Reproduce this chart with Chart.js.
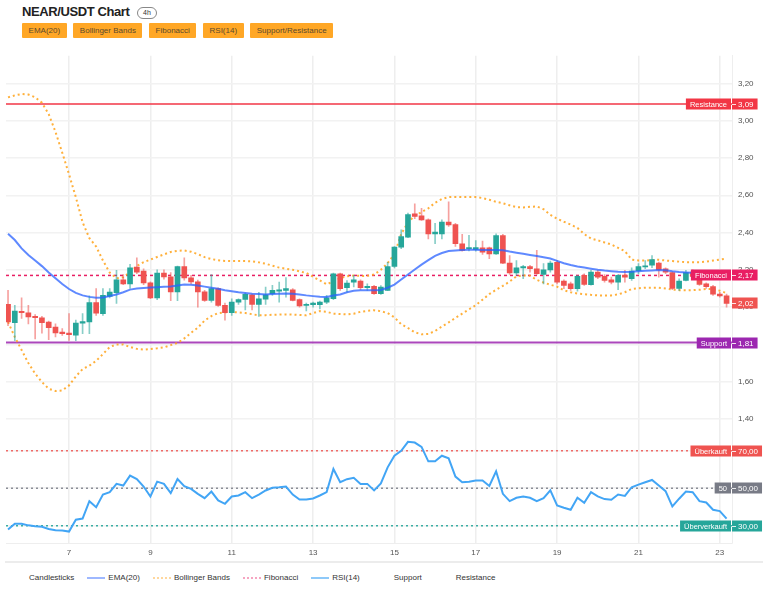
<!DOCTYPE html>
<html>
<head>
<meta charset="utf-8">
<script src="https://cdn.jsdelivr.net/npm/chart.js@4.4.1/dist/chart.umd.min.js"></script>
<style>
  body { margin: 0; width: 768px; height: 594px; background: #fff; overflow: hidden; position: relative;
         font-family: "Liberation Sans", Arial, sans-serif; color: #222; }
  .title { position: absolute; left: 22px; top: 4px; line-height: 16px; font-size: 13px; font-weight: bold; letter-spacing: -0.4px; }
  .pill { position: absolute; left: 137px; top: 7px; width: 18px; height: 10px; border: 1.5px solid #888; border-radius: 7px;
          font-size: 7px; line-height: 10px; text-align: center; color: #333; }
  .buttons { position: absolute; left: 22px; top: 23px; display: flex; gap: 6.5px; }
  .buttons span { background: #FFA726; color: #5b4a2e; font-size: 8px; line-height: 15px; height: 15px; padding: 0 6.6px; border-radius: 1px; }
  .chart-box { position: absolute; left: 0; top: 45px; width: 768px; height: 517px; }
  .sep { position: absolute; left: 5px; top: 561px; width: 758px; height: 2px; background: #ececec; }
  .legend { position: absolute; left: 8px; top: 572px; display: flex; gap: 13px; font-size: 8px; line-height: 12px; color: #333; }
  .legend .item { display: flex; align-items: center; gap: 3px; }
  .legend .icon { width: 18px; height: 0; border-top: 2px solid transparent; }
</style>
</head>
<body>
<div class="title">NEAR/USDT Chart</div>
<div class="pill">4h</div>
<div class="buttons">
  <span>EMA(20)</span><span>Bollinger Bands</span><span>Fibonacci</span><span>RSI(14)</span><span>Support/Resistance</span>
</div>
<div class="chart-box"><canvas id="chart"></canvas></div>
<div class="sep"></div>
<div class="legend">
  <div class="item"><span class="icon"></span>Candlesticks</div>
  <div class="item"><span class="icon" style="border-top-color: rgba(41,98,255,0.45)"></span>EMA(20)</div>
  <div class="item"><span class="icon" style="border-top: 2px dotted rgba(255,167,38,0.45)"></span>Bollinger Bands</div>
  <div class="item"><span class="icon" style="border-top: 2px dotted rgba(233,30,99,0.4)"></span>Fibonacci</div>
  <div class="item"><span class="icon" style="border-top-color: rgba(66,165,245,0.6)"></span>RSI(14)</div>
  <div class="item"><span class="icon"></span>Support</div>
  <div class="item"><span class="icon"></span>Resistance</div>
</div>
<script>
// 4h candles, first one on the 5th at 12:00
const opens = [2.015, 1.916, 1.978, 1.970, 1.950, 1.942, 1.920, 1.893, 1.866, 1.861,
  1.850, 1.914, 1.920, 2.024, 1.965, 2.058, 2.077, 2.147, 2.125, 2.215,
  2.193, 2.130, 2.050, 2.183, 2.162, 2.082, 2.218, 2.157, 2.135, 2.082,
  2.036, 2.099, 2.010, 1.970, 2.027, 2.041, 2.066, 2.015, 2.042, 2.072,
  2.086, 2.090, 2.093, 2.040, 2.009, 2.013, 2.013, 2.027, 2.045, 2.179,
  2.104, 2.134, 2.140, 2.104, 2.111, 2.072, 2.090, 2.218, 2.322, 2.375,
  2.500, 2.490, 2.468, 2.393, 2.393, 2.456, 2.443, 2.340, 2.313, 2.310,
  2.318, 2.318, 2.286, 2.384, 2.236, 2.183, 2.210, 2.218, 2.206, 2.176,
  2.200, 2.240, 2.140, 2.125, 2.099, 2.170, 2.120, 2.188, 2.165, 2.147,
  2.134, 2.172, 2.153, 2.195, 2.215, 2.225, 2.236, 2.206, 2.185, 2.100,
  2.143, 2.188, 2.152, 2.125, 2.110, 2.070, 2.060];
const highs = [2.090, 2.010, 2.050, 2.010, 1.960, 1.950, 1.925, 1.910, 1.885, 1.965,
  1.930, 1.965, 2.060, 2.100, 2.100, 2.100, 2.197, 2.175, 2.230, 2.265,
  2.205, 2.135, 2.200, 2.200, 2.185, 2.220, 2.265, 2.170, 2.145, 2.090,
  2.175, 2.104, 2.022, 2.045, 2.045, 2.075, 2.070, 2.080, 2.108, 2.117,
  2.134, 2.158, 2.099, 2.045, 2.022, 2.027, 2.033, 2.063, 2.183, 2.183,
  2.143, 2.170, 2.147, 2.125, 2.117, 2.115, 2.240, 2.325, 2.415, 2.504,
  2.554, 2.530, 2.474, 2.450, 2.468, 2.565, 2.450, 2.390, 2.385, 2.357,
  2.354, 2.322, 2.393, 2.390, 2.277, 2.250, 2.224, 2.224, 2.304, 2.233,
  2.247, 2.250, 2.147, 2.134, 2.170, 2.179, 2.197, 2.197, 2.175, 2.161,
  2.175, 2.197, 2.211, 2.233, 2.250, 2.277, 2.241, 2.211, 2.190, 2.152,
  2.197, 2.200, 2.165, 2.130, 2.117, 2.080, 2.070];
const lows = [1.900, 1.820, 1.940, 1.910, 1.830, 1.860, 1.825, 1.840, 1.848, 1.822,
  1.820, 1.857, 1.857, 1.955, 1.955, 2.050, 2.020, 2.120, 2.100, 2.180,
  2.120, 2.045, 2.040, 2.150, 2.035, 2.035, 2.145, 2.125, 2.000, 2.030,
  2.027, 2.004, 1.930, 1.955, 2.015, 1.985, 1.985, 1.950, 2.015, 2.063,
  2.027, 2.054, 2.033, 2.000, 1.979, 2.000, 1.990, 2.018, 2.040, 2.090,
  2.080, 2.108, 2.093, 2.090, 2.068, 2.068, 2.088, 2.210, 2.313, 2.372,
  2.474, 2.465, 2.366, 2.340, 2.366, 2.433, 2.325, 2.300, 2.302, 2.300,
  2.283, 2.260, 2.283, 2.233, 2.175, 2.170, 2.152, 2.188, 2.175, 2.125,
  2.188, 2.125, 2.099, 2.090, 2.086, 2.117, 2.118, 2.152, 2.134, 2.125,
  2.093, 2.134, 2.143, 2.179, 2.206, 2.211, 2.161, 2.179, 2.093, 2.090,
  2.140, 2.150, 2.117, 2.100, 2.063, 2.054, 2.000];
const closes = [1.920, 1.979, 1.970, 1.947, 1.944, 1.916, 1.890, 1.862, 1.858, 1.852,
  1.915, 1.922, 2.024, 1.968, 2.063, 2.081, 2.147, 2.125, 2.211, 2.188,
  2.130, 2.050, 2.183, 2.162, 2.082, 2.218, 2.156, 2.135, 2.081, 2.036,
  2.099, 2.009, 1.970, 2.027, 2.041, 2.068, 2.015, 2.045, 2.066, 2.090,
  2.093, 2.099, 2.036, 2.006, 2.015, 2.022, 2.027, 2.050, 2.179, 2.099,
  2.129, 2.147, 2.104, 2.111, 2.072, 2.108, 2.218, 2.322, 2.379, 2.497,
  2.486, 2.468, 2.393, 2.402, 2.456, 2.441, 2.340, 2.304, 2.320, 2.320,
  2.295, 2.286, 2.384, 2.236, 2.183, 2.211, 2.218, 2.206, 2.179, 2.200,
  2.236, 2.134, 2.117, 2.099, 2.165, 2.122, 2.188, 2.161, 2.143, 2.134,
  2.170, 2.160, 2.193, 2.218, 2.222, 2.255, 2.200, 2.188, 2.100, 2.140,
  2.185, 2.165, 2.122, 2.110, 2.070, 2.060, 2.020];
const ema20 = [2.393, 2.360, 2.315, 2.280, 2.250, 2.220, 2.186, 2.155, 2.124, 2.097,
  2.076, 2.063, 2.055, 2.050, 2.052, 2.060, 2.068, 2.080, 2.094, 2.100,
  2.103, 2.105, 2.107, 2.109, 2.111, 2.116, 2.121, 2.120, 2.116, 2.110,
  2.104, 2.098, 2.090, 2.085, 2.080, 2.076, 2.072, 2.070, 2.068, 2.070,
  2.072, 2.073, 2.072, 2.068, 2.063, 2.059, 2.055, 2.054, 2.062, 2.068,
  2.080, 2.088, 2.090, 2.090, 2.090, 2.092, 2.104, 2.121, 2.148, 2.175,
  2.202, 2.228, 2.252, 2.275, 2.290, 2.301, 2.304, 2.306, 2.308, 2.308,
  2.307, 2.306, 2.307, 2.305, 2.298, 2.292, 2.286, 2.280, 2.274, 2.268,
  2.261, 2.248, 2.235, 2.226, 2.218, 2.212, 2.206, 2.200, 2.196, 2.193,
  2.190, 2.188, 2.190, 2.193, 2.195, 2.197, 2.199, 2.198, 2.192, 2.188,
  2.186, 2.184, 2.179, 2.174, 2.169, 2.164, 2.160];
const bbUpper = [3.125, 3.136, 3.143, 3.140, 3.126, 3.096, 3.035, 2.940, 2.828, 2.712,
  2.590, 2.455, 2.370, 2.325, 2.250, 2.185, 2.155, 2.160, 2.188, 2.220,
  2.241, 2.255, 2.269, 2.283, 2.296, 2.302, 2.304, 2.297, 2.284, 2.268,
  2.258, 2.251, 2.248, 2.247, 2.247, 2.247, 2.246, 2.240, 2.233, 2.222,
  2.212, 2.206, 2.200, 2.192, 2.183, 2.163, 2.143, 2.122, 2.138, 2.156,
  2.165, 2.170, 2.167, 2.168, 2.175, 2.200, 2.236, 2.284, 2.392, 2.455,
  2.490, 2.510, 2.530, 2.560, 2.580, 2.590, 2.591, 2.590, 2.590, 2.590,
  2.585, 2.576, 2.565, 2.557, 2.546, 2.536, 2.535, 2.538, 2.540, 2.525,
  2.495, 2.474, 2.458, 2.443, 2.425, 2.392, 2.368, 2.358, 2.347, 2.336,
  2.318, 2.300, 2.255, 2.250, 2.250, 2.252, 2.254, 2.250, 2.247, 2.244,
  2.241, 2.241, 2.241, 2.244, 2.250, 2.255, 2.260];
const bbLower = [1.920, 1.840, 1.770, 1.700, 1.643, 1.598, 1.562, 1.550, 1.553, 1.580,
  1.628, 1.668, 1.686, 1.712, 1.748, 1.786, 1.800, 1.800, 1.786, 1.776,
  1.772, 1.775, 1.779, 1.784, 1.796, 1.808, 1.832, 1.862, 1.890, 1.928,
  1.952, 1.968, 1.972, 1.974, 1.972, 1.968, 1.962, 1.956, 1.957, 1.959,
  1.960, 1.961, 1.960, 1.958, 1.956, 1.968, 1.979, 1.975, 1.965, 1.963,
  1.961, 1.965, 1.975, 1.980, 1.983, 1.978, 1.968, 1.945, 1.908, 1.888,
  1.865, 1.854, 1.856, 1.872, 1.896, 1.918, 1.942, 1.965, 1.988, 2.010,
  2.040, 2.070, 2.093, 2.114, 2.137, 2.165, 2.170, 2.168, 2.146, 2.132,
  2.120, 2.110, 2.090, 2.080, 2.073, 2.070, 2.066, 2.063, 2.063, 2.063,
  2.068, 2.080, 2.097, 2.101, 2.104, 2.104, 2.104, 2.100, 2.094, 2.091,
  2.090, 2.091, 2.093, 2.097, 2.097, 2.088, 2.075];
const rsi14 = [28.0, 31.1, 31.1, 30.2, 29.7, 29.4, 28.3, 27.6, 27.4, 26.9,
  33.2, 33.8, 43.1, 39.9, 46.6, 47.9, 52.3, 51.4, 56.7, 54.9,
  50.9, 45.6, 53.5, 52.3, 47.4, 54.9, 51.1, 49.6, 47.0, 44.7,
  48.2, 43.5, 41.7, 45.6, 46.1, 47.9, 44.7, 46.6, 48.8, 50.2,
  50.5, 50.9, 46.6, 44.0, 44.0, 44.5, 46.1, 47.9, 60.2, 53.2,
  54.8, 55.5, 52.3, 52.3, 48.8, 52.5, 61.1, 67.3, 69.9, 74.7,
  74.3, 72.0, 64.3, 64.3, 67.3, 65.9, 56.2, 53.2, 53.4, 54.1,
  54.1, 51.2, 59.0, 47.0, 43.1, 44.9, 45.6, 44.9, 43.1, 44.7,
  48.8, 40.8, 39.6, 38.5, 44.9, 42.2, 47.9, 45.6, 44.2, 43.8,
  46.6, 45.9, 50.5, 51.9, 53.2, 54.4, 51.4, 48.4, 40.3, 44.4,
  48.2, 47.9, 43.1, 42.4, 38.5, 37.8, 33.8];

const priceTicks = [1.4, 1.6, 1.8, 2.0, 2.2, 2.4, 2.6, 2.8, 3.0, 3.2];
const rsiTicks = [30, 40, 50, 60, 70, 80];
const dayTicks = [7, 9, 11, 13, 15, 17, 19, 21, 23];
const resistanceLevel = 3.09;
const fibLevel = 2.17;
const supportLevel = 1.81;
const rsiOverbought = 70;
const rsiMiddle = 50;
const rsiOversold = 30;

const FONT = '"Liberation Sans", Arial, sans-serif';
const UP = '#26a69a', DOWN = '#ef5350';
const xMin = 5.45, xMax = 23.3;

// x value of each candle in days of the month
const candleDays = closes.map((_, i) => 5.5 + i * 4 / 24);
const isUp = i => closes[i] >= opens[i];
const pts = arr => arr.map((v, i) => ({ x: candleDays[i], y: v }));
const hline = v => [{ x: xMin, y: v }, { x: xMax, y: v }];
const fmt = v => v.toFixed(2).replace('.', ',');

const lineBase = { type: 'line', pointRadius: 0, borderWidth: 2, fill: false, tension: 0 };

const tags = [
  { axis: 'y', value: resistanceLevel, label: 'Resistance', color: '#F23645' },
  { axis: 'y', value: fibLevel, label: 'Fibonacci', color: '#E91E63' },
  { axis: 'y', value: closes[closes.length - 1], label: null, color: '#EF5350' },
  { axis: 'y', value: supportLevel, label: 'Support', color: '#9C27B0' },
  { axis: 'rsi', value: rsiOverbought, label: 'Überkauft', color: '#EF5350' },
  { axis: 'rsi', value: rsiMiddle, label: '50', color: '#787B86' },
  { axis: 'rsi', value: rsiOversold, label: 'Überverkauft', color: '#26A69A' }
];

const tagsPlugin = {
  id: 'priceTags',
  afterDatasetsDraw(chart) {
    const { ctx, chartArea } = chart;
    const x0 = chartArea.right;
    ctx.save();
    ctx.textBaseline = 'middle';
    tags.forEach(t => {
      const y = Math.round(chart.scales[t.axis].getPixelForValue(t.value));
      const txt = fmt(t.value);
      ctx.font = '8px ' + FONT;
      const vw = ctx.measureText(txt).width;
      ctx.fillStyle = t.color;
      ctx.fillRect(x0, y - 5.5, vw + 10, 11);
      ctx.strokeStyle = 'rgba(255,255,255,0.85)';
      ctx.lineWidth = 1;
      ctx.beginPath();
      ctx.moveTo(x0, y + 0.5);
      ctx.lineTo(x0 + 4, y + 0.5);
      ctx.stroke();
      ctx.fillStyle = '#fff';
      ctx.textAlign = 'left';
      ctx.fillText(txt, x0 + 6, y + 0.5);
      if (t.label) {
        ctx.font = '7.5px ' + FONT;
        const lw = ctx.measureText(t.label).width + 8;
        ctx.fillStyle = t.color;
        ctx.fillRect(x0 - 1 - lw, y - 5.5, lw, 11);
        ctx.fillStyle = '#fff';
        ctx.textAlign = 'center';
        ctx.fillText(t.label, x0 - 1 - lw / 2, y + 0.5);
      }
    });
    ctx.restore();
  }
};

new Chart(document.getElementById('chart'), {
  type: 'bar',
  data: {
    datasets: [
      { ...lineBase, label: 'EMA(20)', data: pts(ema20), borderColor: 'rgba(41,98,255,0.75)', yAxisID: 'y', order: 0 },
      { ...lineBase, label: 'RSI(14)', data: pts(rsi14), borderColor: '#42A5F5', yAxisID: 'rsi', order: 0 },
      {
        type: 'bar', label: 'Candlesticks', yAxisID: 'y', order: 1, grouped: false, barThickness: 5,
        data: candleDays.map((d, i) => ({ x: d, y: [opens[i], closes[i]] })),
        backgroundColor: c => isUp(c.dataIndex) ? UP : DOWN
      },
      {
        type: 'bar', label: 'Wicks', yAxisID: 'y', order: 2, grouped: false, barThickness: 1,
        data: candleDays.map((d, i) => ({ x: d, y: [lows[i], highs[i]] })),
        backgroundColor: c => isUp(c.dataIndex) ? 'rgba(38,166,154,0.55)' : 'rgba(239,83,80,0.55)'
      },
      { ...lineBase, label: 'BB Upper', data: pts(bbUpper), borderColor: 'rgba(255,167,38,0.9)', borderDash: [2, 3], yAxisID: 'y', order: 3 },
      { ...lineBase, label: 'BB Lower', data: pts(bbLower), borderColor: 'rgba(255,167,38,0.9)', borderDash: [2, 3], yAxisID: 'y', order: 3 },
      { ...lineBase, label: 'Fibonacci', data: hline(fibLevel), borderColor: '#E91E63', borderWidth: 1.5, borderDash: [3, 3], yAxisID: 'y', order: 4 },
      { ...lineBase, label: 'Resistance', data: hline(resistanceLevel), borderColor: 'rgba(242,54,69,0.75)', yAxisID: 'y', order: 4 },
      { ...lineBase, label: 'Support', data: hline(supportLevel), borderColor: 'rgba(156,39,176,0.85)', yAxisID: 'y', order: 4 },
      { ...lineBase, label: 'Überkauft', data: hline(rsiOverbought), borderColor: 'rgba(239,83,80,0.85)', borderWidth: 1.5, borderDash: [2, 3], yAxisID: 'rsi', order: 4 },
      { ...lineBase, label: '50', data: hline(rsiMiddle), borderColor: 'rgba(120,123,134,0.85)', borderWidth: 1.5, borderDash: [2, 3], yAxisID: 'rsi', order: 4 },
      { ...lineBase, label: 'Überverkauft', data: hline(rsiOversold), borderColor: 'rgba(38,166,154,0.9)', borderWidth: 1.5, borderDash: [2, 3], yAxisID: 'rsi', order: 4 }
    ]
  },
  options: {
    responsive: true,
    maintainAspectRatio: false,
    animation: false,
    events: [],
    layout: { padding: { top: 10, left: 6, right: 0, bottom: 0 } },
    plugins: { legend: { display: false }, tooltip: { enabled: false } },
    scales: {
      x: {
        type: 'linear', min: xMin, max: xMax, offset: false,
        afterBuildTicks: s => { s.ticks = dayTicks.map(v => ({ value: v })); },
        afterFit: s => { s.height = 19; },
        ticks: { font: { size: 8, family: FONT }, color: '#555', padding: 5, maxRotation: 0, callback: v => String(v) },
        grid: { color: '#eeeeee', lineWidth: 1.5, drawTicks: false, offset: false },
        border: { color: '#eeeeee' }
      },
      y: {
        type: 'linear', position: 'right', stack: 'panes', stackWeight: 372, weight: 0,
        min: 1.356, max: 3.348,
        afterBuildTicks: s => { s.ticks = priceTicks.map(v => ({ value: v })); },
        afterFit: s => { s.width = 36; },
        ticks: { font: { size: 8, family: FONT }, color: '#555', padding: 6, callback: v => fmt(v) },
        grid: { color: '#f2f2f2', lineWidth: 1.5, drawTicks: false },
        border: { color: '#eeeeee' }
      },
      rsi: {
        type: 'linear', position: 'right', stack: 'panes', stackWeight: 116, weight: 1,
        min: 20.8, max: 82.5,
        afterBuildTicks: s => { s.ticks = rsiTicks.map(v => ({ value: v })); },
        afterFit: s => { s.width = 36; },
        ticks: { font: { size: 8, family: FONT }, color: '#555', padding: 6, callback: v => fmt(v) },
        grid: { color: '#f2f2f2', lineWidth: 1.5, drawTicks: false },
        border: { color: '#eeeeee' }
      }
    }
  },
  plugins: [tagsPlugin]
});
</script>
</body>
</html>
